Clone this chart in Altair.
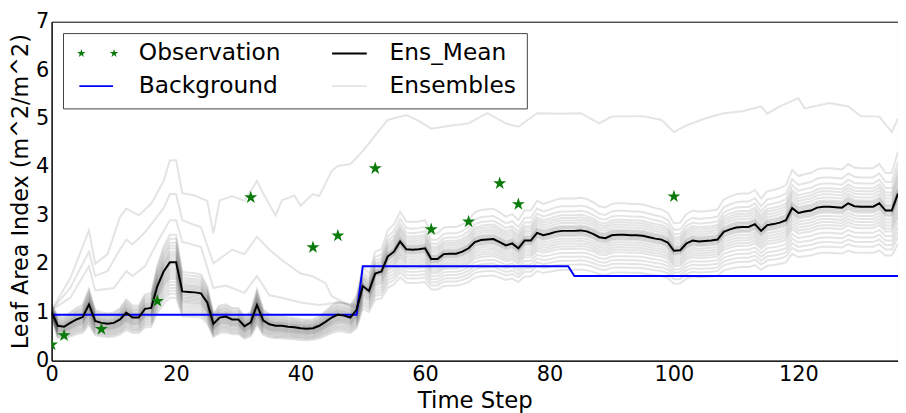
import altair as alt
import pandas as pd

# ---------------- data ----------------
MEAN = [
    1.00, 0.72, 0.70, 0.78, 0.85, 0.90, 1.16, 0.82, 0.78, 0.76,
    0.78, 0.85, 0.99, 0.89, 0.89, 1.07, 1.09, 1.54, 1.84, 2.03,
    2.03, 1.43, 1.42, 1.41, 1.39, 1.20, 0.76, 0.89, 0.91, 0.85,
    0.85, 0.71, 0.79, 1.15, 0.83, 0.75, 0.72, 0.72, 0.70, 0.69,
    0.67, 0.66, 0.67, 0.72, 0.80, 0.89, 0.95, 0.93, 0.89, 1.05,
    1.54, 1.44, 1.80, 1.84, 2.15, 2.25, 2.46, 2.30, 2.29, 2.30,
    2.32, 2.10, 2.10, 2.20, 2.21, 2.21, 2.25, 2.32, 2.45, 2.49,
    2.50, 2.51, 2.45, 2.38, 2.42, 2.32, 2.48, 2.48, 2.64, 2.59,
    2.62, 2.66, 2.68, 2.68, 2.68, 2.69, 2.67, 2.62, 2.55, 2.53,
    2.59, 2.60, 2.60, 2.59, 2.59, 2.58, 2.55, 2.52, 2.50, 2.44,
    2.27, 2.28, 2.42, 2.48, 2.46, 2.47, 2.48, 2.50, 2.66, 2.71,
    2.75, 2.76, 2.76, 2.82, 2.68, 2.80, 2.82, 2.85, 2.90, 3.15,
    3.05, 3.08, 3.10, 3.16, 3.18, 3.18, 3.17, 3.16, 3.25, 3.19,
    3.18, 3.18, 3.18, 3.25, 3.10, 3.10, 3.45,
]
TIME = list(range(len(MEAN)))

BG_T = [0, 49, 50, 83, 84, 136]
BG_V = [0.95, 0.95, 1.95, 1.95, 1.75, 1.75]

OBS_T = [0, 2, 8, 17, 32, 42, 46, 52, 61, 67, 72, 75, 100]
OBS_V = [0.33, 0.52, 0.65, 1.23, 3.37, 2.34, 2.58, 3.97, 2.71, 2.87, 3.66, 3.23, 3.39]

# ensemble members: value at t=0, and member/mean ratios before and after t=50
ENS_START = [0.90, 0.92, 0.93, 0.95, 0.96, 0.97, 0.98, 0.99, 1.00, 1.00, 1.01, 1.02, 1.03,
             1.03, 1.04, 1.05, 1.05, 1.06, 1.07, 1.08, 1.09, 1.10, 1.11, 1.12, 1.14, 1.16]
ENS_RATIO_EARLY = [0.64, 0.68, 0.71, 0.74, 0.77, 0.80, 0.83, 0.85, 0.87, 0.89, 0.91, 0.93, 0.95,
                   0.97, 0.99, 1.01, 1.03, 1.05, 1.07, 1.09, 1.11, 1.14, 1.17, 1.20, 1.24, 1.28]
ENS_RATIO_LATE = [0.70, 0.74, 0.77, 0.80, 0.83, 0.86, 0.88, 0.90, 0.92, 0.94, 0.96, 0.97, 0.98,
                  0.99, 1.00, 1.01, 1.02, 1.03, 1.04, 1.06, 1.08, 1.10, 1.12, 1.15, 1.19, 1.25]

# outlying members
ENS_A_T = [0, 3, 6, 7, 9, 11, 12, 14, 16, 18, 19, 20, 21, 23, 25, 26, 27, 29, 31, 33, 34, 36, 37,
           39, 40, 42, 43, 44, 45, 46, 48, 49, 50, 52, 54, 57, 59, 61, 64, 67, 70, 73, 75, 78, 82,
           85, 88, 90, 95, 98, 100, 102, 105, 108, 111, 114, 115, 117, 120, 121, 125, 128, 130,
           133, 135, 136]
ENS_A_V = [1.05, 1.70, 2.69, 2.00, 2.20, 2.97, 3.14, 3.00, 3.24, 3.71, 4.14, 4.14, 3.46, 3.41, 3.30,
           2.63, 3.31, 3.40, 3.30, 3.71, 3.45, 3.00, 3.31, 3.41, 3.20, 3.44, 3.40, 3.65, 3.92, 4.02,
           4.06, 4.19, 4.33, 4.65, 4.97, 5.07, 4.95, 4.79, 4.85, 4.90, 5.11, 4.90, 4.83, 5.11, 5.10,
           5.11, 4.90, 5.04, 5.05, 4.97, 4.72, 4.86, 5.00, 5.11, 5.15, 5.25, 5.10, 5.25, 5.42, 5.21,
           5.32, 5.25, 5.05, 5.04, 4.72, 5.00]
ENS_B_T = [0, 3, 6, 7, 9, 11, 12, 13, 15, 18, 19, 20, 21, 23, 24, 26, 29, 31, 33, 35, 37, 40, 42,
           44, 45, 48, 49]
ENS_B_V = [1.05, 1.50, 2.25, 1.75, 1.85, 2.30, 2.50, 2.40, 2.65, 3.15, 3.44, 3.44, 2.90, 2.80, 2.76,
           2.01, 2.29, 2.20, 2.56, 2.29, 2.08, 1.80, 1.74, 1.60, 1.33, 1.13, 1.10]
ENS_C_T = [0, 3, 6, 7, 10, 12, 13, 15, 17, 19, 20, 21, 24, 26, 28, 31, 33, 35, 37, 40, 43, 46, 49]
ENS_C_V = [1.05, 1.30, 1.95, 1.45, 1.50, 1.85, 1.75, 1.95, 2.45, 2.90, 2.90, 2.45, 2.35, 1.50, 1.55,
           1.40, 1.75, 1.35, 1.30, 1.20, 1.15, 1.20, 1.15]

LEGEND_LABELS = ["Observation", "Background", "Ens_Mean", "Ensembles"]

# ---------------- tables ----------------
rows = []
for k in range(len(ENS_RATIO_EARLY)):
    for t, m in zip(TIME, MEAN):
        if t == 0:
            v = ENS_START[k]
        elif t < 50:
            v = m * ENS_RATIO_EARLY[k]
        else:
            v = m * ENS_RATIO_LATE[k]
        rows.append({"member": f"m{k}", "t": t, "v": v})
for name, ts, vs in [("A", ENS_A_T, ENS_A_V), ("B", ENS_B_T, ENS_B_V), ("C", ENS_C_T, ENS_C_V)]:
    for t, v in zip(ts, vs):
        rows.append({"member": name, "t": t, "v": v})
ens_df = pd.DataFrame(rows)
mean_df = pd.DataFrame({"t": TIME, "v": MEAN})
bg_df = pd.DataFrame({"t": BG_T, "v": BG_V})
obs_df = pd.DataFrame({"t": OBS_T, "v": OBS_V})

W, H = 854, 342
FONT = "DejaVu Sans"
GREEN = "#0a7a0a"
BLUE = "#0000ff"
ENS_COLOR = "#222222"
ENS_OP = 0.12
STAR = ("M0,-1L0.2245,-0.309L0.9511,-0.309L0.3633,0.118L0.5878,0.809L0,0.382"
        "L-0.5878,0.809L-0.3633,0.118L-0.9511,-0.309L-0.2245,-0.309Z")

xscale = alt.Scale(domain=[0, 136], nice=False, zero=False)
yscale = alt.Scale(domain=[0, 7], nice=False)
xaxis = alt.Axis(values=[0, 20, 40, 60, 80, 100, 120], title="Time Step", grid=False, ticks=False,
                 orient="bottom", labelFlush=False,
                 labelFontSize=21, labelPadding=3, titleFontSize=23, titlePadding=5,
                 domainColor="black", labelColor="black", titleColor="black",
                 labelFont=FONT, titleFont=FONT, titleFontWeight="normal")
yaxis = alt.Axis(values=[0, 1, 2, 3, 4, 5, 6, 7], title="Leaf Area Index (m^2/m^2)", grid=False,
                 orient="left", labelFlush=False,
                 ticks=False, labelFontSize=21, labelPadding=3, titleFontSize=22.5, titlePadding=3,
                 domainColor="black", labelColor="black", titleColor="black",
                 labelFont=FONT, titleFont=FONT, titleFontWeight="normal")

X = alt.X("t:Q", scale=xscale, axis=xaxis)
Y = alt.Y("v:Q", scale=yscale, axis=yaxis)

ens = alt.Chart(ens_df).mark_line(clip=True, color=ENS_COLOR, opacity=ENS_OP, strokeWidth=2).encode(
    x=X, y=Y, detail="member:N")
bg = alt.Chart(bg_df).mark_line(clip=True, color=BLUE, strokeWidth=2).encode(x=X, y=Y)
mean = alt.Chart(mean_df).mark_line(clip=True, color="black", strokeWidth=2).encode(x=X, y=Y)
obs = alt.Chart(obs_df).mark_point(shape=STAR, filled=True, size=190, color=GREEN, opacity=1,
                                   clip=True).encode(x=X, y=Y)

# ---------------- legend (plot-pixel layout) ----------------
one = pd.DataFrame({"k": [0]})
layers = [ens, bg, mean, obs]
layers.append(alt.Chart(one).mark_rect(fill="white", stroke="#444444", strokeWidth=1).encode(
    x=alt.value(12), x2=alt.value(480), y=alt.value(12), y2=alt.value(88)))
ROW_Y = [32, 65, 32, 65]
TEXT_X = [88, 88, 341, 341]
for lab, tx, ty in zip(LEGEND_LABELS, TEXT_X, ROW_Y):
    layers.append(alt.Chart(one).mark_text(align="left", baseline="middle", fontSize=23.5, font=FONT,
                                           color="black", text=lab).encode(
        x=alt.value(tx), y=alt.value(ty)))
for x1, x2, ly, col in [(28, 62, 65, BLUE), (283, 318, 32, "black"), (283, 318, 65, "#e4e4e4")]:
    layers.append(alt.Chart(one).mark_rule(strokeWidth=2, color=col).encode(
        x=alt.value(x1), x2=alt.value(x2), y=alt.value(ly)))
for sx in [30, 63]:
    layers.append(alt.Chart(one).mark_point(shape=STAR, filled=True, size=80, color=GREEN,
                                            opacity=1).encode(x=alt.value(sx), y=alt.value(32)))

chart = alt.layer(*layers).properties(
    width=W, height=H,
    padding={"left": 44, "top": 12, "right": 0, "bottom": 51},
    autosize=alt.AutoSizeParams(type="none"),
).configure_view(stroke="black", strokeWidth=1)

chart.save("out.html", embed_options={"renderer": "svg", "actions": False})
